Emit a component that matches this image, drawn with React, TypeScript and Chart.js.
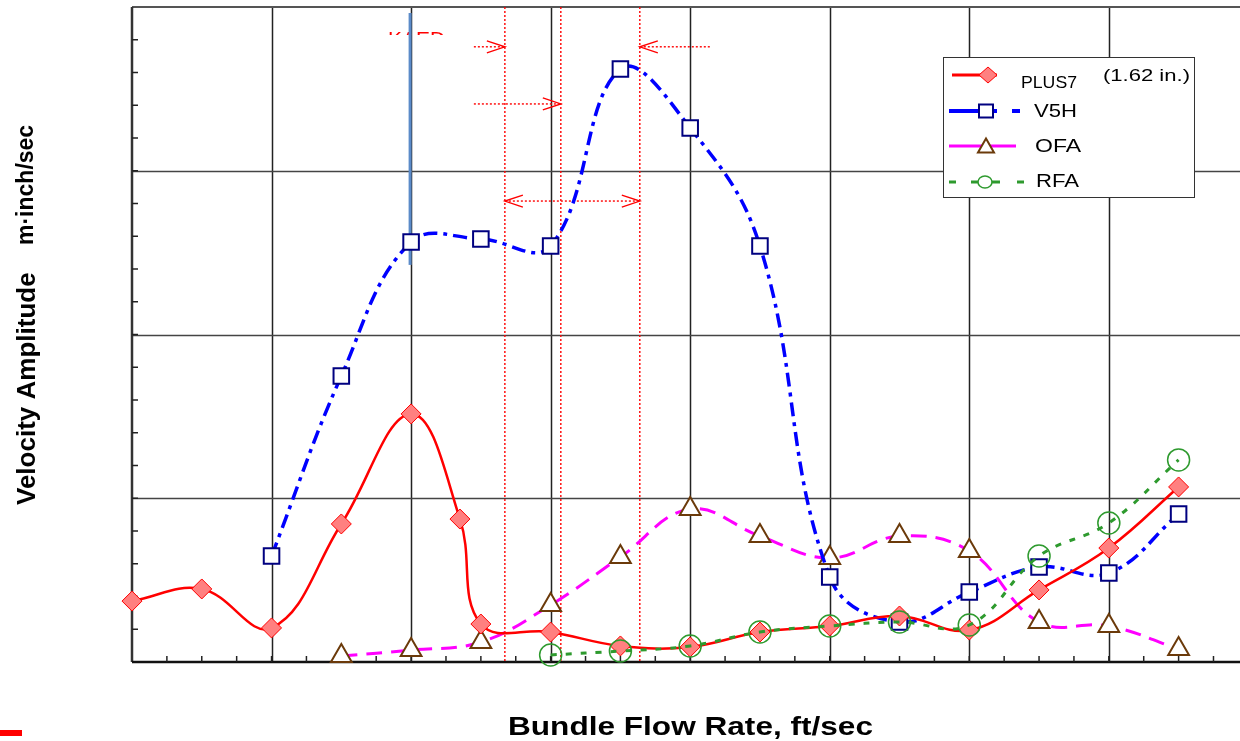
import React, { useEffect, useRef } from "react";
import { Chart, registerables } from "chart.js";

Chart.register(...registerables);

const flowX = [0, 0.5, 1, 1.5, 2, 2.35, 2.5, 3, 3.5, 4, 4.5, 5, 5.5, 6, 6.5, 7, 7.5];
const plus7 = [0.372, 0.446, 0.208, 0.843, 1.515, 0.873, 0.232, 0.183, 0.098, 0.092, 0.183, 0.22, 0.281, 0.195, 0.44, 0.696, 1.069];

const v5hX = [1, 1.5, 2, 2.5, 3, 3.5, 4, 4.5, 5, 5.5, 6, 6.5, 7, 7.5];
const v5h = [0.647, 1.747, 2.565, 2.583, 2.54, 3.621, 3.261, 2.54, 0.519, 0.244, 0.427, 0.58, 0.543, 0.904];

const ofaX = [1.5, 2, 2.5, 3, 3.5, 4, 4.5, 5, 5.5, 6, 6.5, 7, 7.5];
const ofa = [0.037, 0.073, 0.122, 0.348, 0.641, 0.934, 0.769, 0.635, 0.769, 0.678, 0.244, 0.22, 0.079];

const rfaX = [3, 3.5, 4, 4.5, 5, 5.5, 6, 6.5, 7, 7.5];
const rfa = [0.043, 0.067, 0.098, 0.183, 0.22, 0.244, 0.226, 0.647, 0.849, 1.234];

const xMajor = [1, 2, 3, 4, 5, 6, 7];
const yMajor = [1, 2, 3];
const redMarkers = [2.672, 3.073, 3.639];
const blueMarker = 2.0;

const pts = (xs: number[], ys: number[]) => xs.map((x, i) => ({ x, y: ys[i] }));

const FONT = "'Liberation Sans', Arial, sans-serif";

function fitText(ctx: CanvasRenderingContext2D, text: string, x: number, cy: number, font: string, width: number, color = "#000") {
  ctx.save();
  ctx.font = font;
  ctx.fillStyle = color;
  ctx.textAlign = "left";
  ctx.textBaseline = "middle";
  const w = ctx.measureText(text).width;
  ctx.translate(x, cy);
  ctx.scale(width / w, 1);
  ctx.fillText(text, 0, 0);
  ctx.restore();
}

export default function App() {
  const ref = useRef<HTMLCanvasElement>(null);
  useEffect(() => {
    const canvas = ref.current!;
    const decor = {
      id: "decor",
      beforeDatasetsDraw(chart: any) {
        const { ctx, chartArea: a, scales } = chart;
        const xs = scales.x, ys = scales.y;
        ctx.save();
        // grid
        ctx.lineWidth = 1.5;
        ctx.strokeStyle = "#222";
        xMajor.forEach((v) => {
          const px = Math.round(xs.getPixelForValue(v)) + 0.5;
          ctx.beginPath(); ctx.moveTo(px, a.top); ctx.lineTo(px, a.bottom); ctx.stroke();
        });
        ctx.strokeStyle = "#444";
        yMajor.forEach((v) => {
          const py = Math.round(ys.getPixelForValue(v)) + 0.5;
          ctx.beginPath(); ctx.moveTo(a.left, py); ctx.lineTo(a.right, py); ctx.stroke();
        });
        // frame
        ctx.strokeStyle = "#555";
        ctx.lineWidth = 2;
        ctx.beginPath(); ctx.moveTo(a.left, a.top); ctx.lineTo(a.right, a.top); ctx.stroke();
        ctx.strokeStyle = "#333";
        ctx.lineWidth = 2.5;
        ctx.beginPath(); ctx.moveTo(a.left, a.top); ctx.lineTo(a.left, a.bottom); ctx.stroke();
        ctx.strokeStyle = "#111";
        ctx.beginPath(); ctx.moveTo(a.left, a.bottom); ctx.lineTo(a.right, a.bottom); ctx.stroke();
        // minor ticks
        ctx.lineWidth = 1.5;
        ctx.strokeStyle = "#222";
        for (let v = 0.25; v < 7.94; v += 0.25) {
          const px = xs.getPixelForValue(v);
          ctx.beginPath(); ctx.moveTo(px, a.bottom); ctx.lineTo(px, a.bottom - 6); ctx.stroke();
        }
        for (let v = 0.2; v < 4; v += 0.2) {
          const py = ys.getPixelForValue(v);
          ctx.beginPath(); ctx.moveTo(a.left, py); ctx.lineTo(a.left + 6, py); ctx.stroke();
        }
        // red dotted markers
        ctx.strokeStyle = "#ff0000";
        ctx.lineWidth = 1.4;
        ctx.setLineDash([2, 2]);
        redMarkers.forEach((v) => {
          const px = xs.getPixelForValue(v);
          ctx.beginPath(); ctx.moveTo(px, a.top); ctx.lineTo(px, a.bottom); ctx.stroke();
        });
        const p1 = xs.getPixelForValue(redMarkers[0]);
        const p2 = xs.getPixelForValue(redMarkers[1]);
        const p3 = xs.getPixelForValue(redMarkers[2]);
        const arrowLine = (x0: number, x1: number, y: number) => {
          ctx.setLineDash([2, 2]);
          ctx.beginPath(); ctx.moveTo(x0, y); ctx.lineTo(x1, y); ctx.stroke();
        };
        const head = (x: number, y: number, dir: number) => {
          ctx.setLineDash([]);
          ctx.beginPath();
          ctx.moveTo(x - dir * 18, y - 6); ctx.lineTo(x, y); ctx.lineTo(x - dir * 18, y + 6);
          ctx.stroke();
        };
        const yA = ys.getPixelForValue(3.757);
        const yB = ys.getPixelForValue(3.408);
        const yC = ys.getPixelForValue(2.815);
        arrowLine(p1 - 31, p1, yA); head(p1, yA, 1);
        arrowLine(p3 + 70, p3, yA); head(p3, yA, -1);
        arrowLine(p1 - 31, p2, yB); head(p2, yB, 1);
        arrowLine(p1, p3, yC); head(p1, yC, -1); head(p3, yC, 1);
        // clipped KAED text
        ctx.save();
        ctx.beginPath(); ctx.rect(380, 32, 80, 3); ctx.clip();
        fitText(ctx, "KAED", 388, 40, "20px " + FONT, 57, "#ff0000");
        ctx.restore();
        // blue vertical
        ctx.setLineDash([]);
        ctx.strokeStyle = "#5b8bc9";
        ctx.lineWidth = 3;
        const bx = xs.getPixelForValue(blueMarker) - 1;
        ctx.beginPath(); ctx.moveTo(bx, 13); ctx.lineTo(bx, ys.getPixelForValue(2.425)); ctx.stroke();
        ctx.restore();
      },
      afterDraw(chart: any) {
        const { ctx } = chart;
        ctx.save();
        // axis titles
        fitText(ctx, "Bundle Flow Rate, ft/sec", 508, 728, "bold 26px " + FONT, 365);
        ctx.save();
        ctx.translate(28, 0);
        ctx.rotate(-Math.PI / 2);
        ctx.fillStyle = "#000";
        ctx.font = "bold 26px " + FONT;
        ctx.textAlign = "left";
        ctx.textBaseline = "middle";
        ctx.fillText("Velocity Amplitude", -505, 0);
        ctx.font = "bold 23px " + FONT;
        ctx.fillText("m\u00b7inch/sec", -245, -1);
        ctx.restore();
        // red bottom-left mark
        ctx.fillStyle = "#ff0000";
        ctx.fillRect(0, 730, 22, 6);
        // legend
        ctx.fillStyle = "#fff";
        ctx.fillRect(943, 57, 251, 140);
        ctx.strokeStyle = "#333";
        ctx.lineWidth = 1;
        ctx.strokeRect(943.5, 57.5, 251, 140);
        const ds = chart.data.datasets;
        const rows = [75, 111, 146, 182];
        rows.forEach((y, i) => {
          const d = ds[i];
          ctx.fillStyle = d.borderColor;
          if (i === 0) {
            ctx.fillRect(952, y - 1.5, 45, 3);
          } else if (i === 1) {
            ctx.fillRect(949, y - 2, 30, 4);
            ctx.fillRect(993, y - 2, 4, 4);
            ctx.fillRect(1012, y - 2, 8, 4);
          } else if (i === 2) {
            ctx.fillRect(949, y - 1.5, 67, 3);
          } else {
            ctx.fillRect(949, y - 1.5, 7, 3);
            ctx.fillRect(971, y - 1.5, 29, 3);
            ctx.fillRect(1017, y - 1.5, 7, 3);
          }
          ctx.fillStyle = d.pointBackgroundColor;
          ctx.strokeStyle = d.pointBorderColor;
          ctx.lineWidth = d.pointBorderWidth;
          ctx.beginPath();
          if (i === 0) {
            const cx = 988;
            ctx.moveTo(cx, y - 8); ctx.lineTo(cx + 9, y); ctx.lineTo(cx, y + 8); ctx.lineTo(cx - 9, y); ctx.closePath();
            ctx.fill(); ctx.stroke();
          } else if (i === 1) {
            ctx.rect(979, y - 6.5, 14, 13); ctx.fill(); ctx.stroke();
          } else if (i === 2) {
            const cx = 986;
            ctx.moveTo(cx, y - 7.5); ctx.lineTo(cx + 8, y + 6.5); ctx.lineTo(cx - 8, y + 6.5); ctx.closePath();
            ctx.fill(); ctx.stroke();
          } else {
            ctx.ellipse(985, y, 7, 6, 0, 0, Math.PI * 2);
            ctx.fillStyle = "#fff"; ctx.fill(); ctx.stroke();
          }
        });
        fitText(ctx, "PLUS7", 1021, 83, "17px " + FONT, 56);
        fitText(ctx, "(1.62 in.)", 1103, 77, "16px " + FONT, 87);
        fitText(ctx, "V5H", 1034, 112, "18px " + FONT, 43);
        fitText(ctx, "OFA", 1035, 147, "18px " + FONT, 46);
        fitText(ctx, "RFA", 1036, 182, "18px " + FONT, 43);
        ctx.restore();
      },
    };

    const chart = new Chart(canvas, {
      type: "line",
      data: {
        datasets: [
          {
            label: "PLUS7",
            data: pts(flowX, plus7),
            borderColor: "#ff0000",
            borderWidth: 2.5,
            tension: 0.4,
            pointStyle: "rectRot",
            pointRadius: 10,
            pointBackgroundColor: "#ff8080",
            pointBorderColor: "#ff0000",
            pointBorderWidth: 1,
            order: 1,
          },
          {
            label: "V5H",
            data: pts(v5hX, v5h),
            borderColor: "#0000ff",
            borderWidth: 3.5,
            borderDash: [14, 6, 4, 6],
            tension: 0.4,
            pointStyle: "rect",
            pointRadius: 11,
            pointBackgroundColor: "#ffffff",
            pointBorderColor: "#000080",
            pointBorderWidth: 2,
            order: 2,
          },
          {
            label: "OFA",
            data: pts(ofaX, ofa),
            borderColor: "#ff00ff",
            borderWidth: 3,
            borderDash: [16, 9],
            tension: 0.4,
            pointStyle: "triangle",
            pointRadius: 12,
            pointBackgroundColor: "#ffffff",
            pointBorderColor: "#6b3a0a",
            pointBorderWidth: 2,
            order: 3,
          },
          {
            label: "RFA",
            data: pts(rfaX, rfa),
            borderColor: "#2e9a2e",
            borderWidth: 3,
            borderDash: [6, 9],
            tension: 0.4,
            pointStyle: "circle",
            pointRadius: 11,
            pointBackgroundColor: "rgba(255,255,255,0)",
            pointBorderColor: "#2e9a2e",
            pointBorderWidth: 1.5,
            order: 0,
          },
        ],
      },
      options: {
        animation: false,
        responsive: false,
        maintainAspectRatio: false,
        layout: { autoPadding: false, padding: { left: 132, top: 7, right: 0, bottom: 79 } },
        plugins: { legend: { display: false }, tooltip: { enabled: false } },
        scales: {
          x: { type: "linear", min: 0, max: 7.94, display: false },
          y: { type: "linear", min: 0, max: 4, display: false },
        },
        clip: false as any,
      },
      plugins: [decor],
    });
    return () => chart.destroy();
  }, []);
  return (
    <div style={{ position: "absolute", left: 0, top: 0, width: 1240, height: 741, background: "#fff" }}>
      <canvas ref={ref} width={1240} height={741} style={{ display: "block" }} />
    </div>
  );
}
